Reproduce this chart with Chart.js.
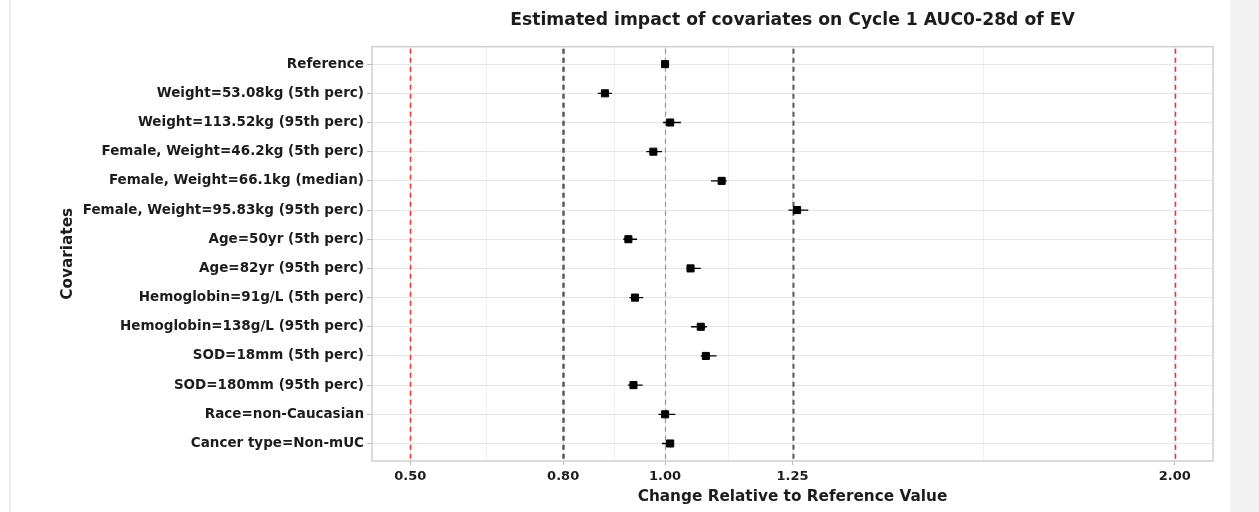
<!DOCTYPE html>
<html>
<head>
<meta charset="utf-8">
<script src="https://cdn.jsdelivr.net/npm/chart.js@4.4.1/dist/chart.umd.min.js"></script>
<style>
	html, body { margin: 0; padding: 0; background: #ffffff; }
	#wrap { position: relative; width: 1259px; height: 512px; overflow: hidden; }
	#edge { position: absolute; left: 9px; top: 0; width: 2px; height: 512px; background: #ececec; }
	#side { position: absolute; left: 1230px; top: 0; width: 29px; height: 512px; background: #f2f2f2; }
	#chart { position: absolute; left: 0; top: 0; }
</style>
</head>
<body>
<div id="wrap">
	<div id="edge"></div>
	<div id="side"></div>
	<canvas id="chart" width="1259" height="512"></canvas>
</div>
<script>
	// covariate rows, top to bottom
	var covariates = [
		'Reference',
		'Weight=53.08kg (5th perc)',
		'Weight=113.52kg (95th perc)',
		'Female, Weight=46.2kg (5th perc)',
		'Female, Weight=66.1kg (median)',
		'Female, Weight=95.83kg (95th perc)',
		'Age=50yr (5th perc)',
		'Age=82yr (95th perc)',
		'Hemoglobin=91g/L (5th perc)',
		'Hemoglobin=138g/L (95th perc)',
		'SOD=18mm (5th perc)',
		'SOD=180mm (95th perc)',
		'Race=non-Caucasian',
		'Cancer type=Non-mUC'
	];

	// ratio to reference and its interval
	var ratio = [1.000, 0.882, 1.010, 0.977, 1.111, 1.259, 0.928, 1.050, 0.941, 1.070, 1.080, 0.938, 1.000, 1.010];
	var lower = [1.000, 0.868, 0.996, 0.963, 1.090, 1.242, 0.918, 1.042, 0.930, 1.051, 1.070, 0.927, 0.987, 0.994];
	var upper = [1.000, 0.896, 1.031, 0.994, 1.121, 1.281, 0.945, 1.070, 0.957, 1.082, 1.101, 0.956, 1.020, 1.016];

	// x axis breaks (labelled) and the in-between grid lines
	var majorTicks = [0.50, 0.80, 1.00, 1.25, 2.00];
	var minorTicks = [0.65, 0.90, 1.125, 1.625];

	// reference lines: bioequivalence limits and outer bounds
	var refLines = [
		{ value: 0.50, color: '#ff2a2a', width: 1.5, dash: [5, 4] },
		{ value: 0.80, color: '#5a5a5a', width: 2.5, dash: [5, 4] },
		{ value: 1.00, color: '#9a9a9a', width: 1.3, dash: [5, 4] },
		{ value: 1.25, color: '#5a5a5a', width: 2, dash: [5, 4] },
		{ value: 2.00, color: '#ff2a2a', width: 1.5, dash: [5, 4] }
	];

	var font = '"DejaVu Sans", Verdana, sans-serif';
	var textColor = '#1c1c1c';

	var points = ratio.map(function(v, i) { return { x: v, y: i }; });
	var whiskers = [];
	lower.forEach(function(lo, i) {
		whiskers.push({ x: lo, y: i });
		whiskers.push({ x: upper[i], y: i });
		whiskers.push({ x: null, y: null });
	});

	var refLinePlugin = {
		id: 'refLines',
		beforeDatasetsDraw: function(chart) {
			var ctx = chart.ctx;
			var area = chart.chartArea;
			var xs = chart.scales.x;
			ctx.save();
			refLines.forEach(function(l) {
				var px = Math.round(xs.getPixelForValue(l.value)) + 0.5;
				ctx.beginPath();
				ctx.strokeStyle = l.color;
				ctx.lineWidth = l.width;
				ctx.setLineDash(l.dash);
				ctx.moveTo(px, area.top + 2);
				ctx.lineTo(px, area.bottom);
				ctx.stroke();
			});
			ctx.restore();
		},
		afterDatasetsDraw: function(chart) {
			var ctx = chart.ctx;
			var a = chart.chartArea;
			ctx.save();
			ctx.strokeStyle = '#cfcfcf';
			ctx.lineWidth = 1.5;
			ctx.strokeRect(a.left, a.top, a.right - a.left, a.bottom - a.top);
			ctx.restore();
		}
	};

	var config = {
		type: 'scatter',
		data: {
			datasets: [
				{
					data: points,
					pointStyle: 'rect',
					pointRadius: 5,
					pointBackgroundColor: '#000000',
					pointBorderColor: '#000000',
					pointBorderWidth: 1,
					order: 0
				},
				{
					type: 'line',
					data: whiskers,
					showLine: true,
					spanGaps: false,
					borderColor: '#000000',
					borderWidth: 1.3,
					pointRadius: 0,
					order: 1
				}
			]
		},
		options: {
			responsive: false,
			animation: false,
			devicePixelRatio: 1,
			layout: {
				padding: { left: 10, right: 46, top: 0, bottom: 0 }
			},
			scales: {
				x: {
					type: 'linear',
					min: 0.425,
					max: 2.075,
					afterBuildTicks: function(scale) {
						scale.ticks = majorTicks.concat(minorTicks)
							.sort(function(a, b) { return a - b; })
							.map(function(v) { return { value: v }; });
					},
					afterFit: function(scale) {
						scale.height = 51;
					},
					border: { display: false },
					grid: {
						color: function(c) {
							return minorTicks.indexOf(c.tick.value) >= 0 ? '#f0f0f0' : '#e4e4e4';
						},
						lineWidth: 1,
						tickLength: 4,
						tickColor: function(c) {
							return minorTicks.indexOf(c.tick.value) >= 0 ? 'rgba(0,0,0,0)' : '#b8b8b8';
						}
					},
					ticks: {
						autoSkip: false,
						maxRotation: 0,
						padding: 4,
						color: textColor,
						font: { family: font, size: 13, weight: 'bold' },
						callback: function(v) {
							return majorTicks.indexOf(v) >= 0 ? v.toFixed(2) : '';
						}
					},
					title: {
						display: true,
						text: 'Change Relative to Reference Value',
						color: textColor,
						font: { family: font, size: 15.3, weight: 'bold' },
						padding: { top: 0, bottom: 6 }
					}
				},
				y: {
					type: 'linear',
					reverse: true,
					min: -0.6,
					max: covariates.length - 1 + 0.6,
					afterBuildTicks: function(scale) {
						scale.ticks = covariates.map(function(c, i) { return { value: i }; });
					},
					afterFit: function(scale) {
						scale.width = 362;
					},
					border: { display: false },
					grid: {
						color: '#e6e6e6',
						lineWidth: 1,
						tickLength: 5,
						tickColor: '#b8b8b8'
					},
					ticks: {
						autoSkip: false,
						padding: 3,
						color: textColor,
						font: { family: font, size: 13.5, weight: 'bold' },
						callback: function(v) {
							return covariates[v];
						}
					},
					title: {
						display: true,
						text: 'Covariates',
						color: textColor,
						font: { family: font, size: 15.3, weight: 'bold' },
						padding: { top: 49, bottom: 0 }
					}
				}
			},
			plugins: {
				legend: { display: false },
				tooltip: { enabled: false },
				title: {
					display: true,
					fullSize: false,
					text: 'Estimated impact of covariates on Cycle 1 AUC0-28d of EV',
					color: textColor,
					font: { family: font, size: 17.2, weight: 'bold' },
					padding: { top: 10, bottom: 16 }
				}
			}
		},
		plugins: [refLinePlugin]
	};

	var chart = new Chart(document.getElementById('chart'), config);
</script>
</body>
</html>
